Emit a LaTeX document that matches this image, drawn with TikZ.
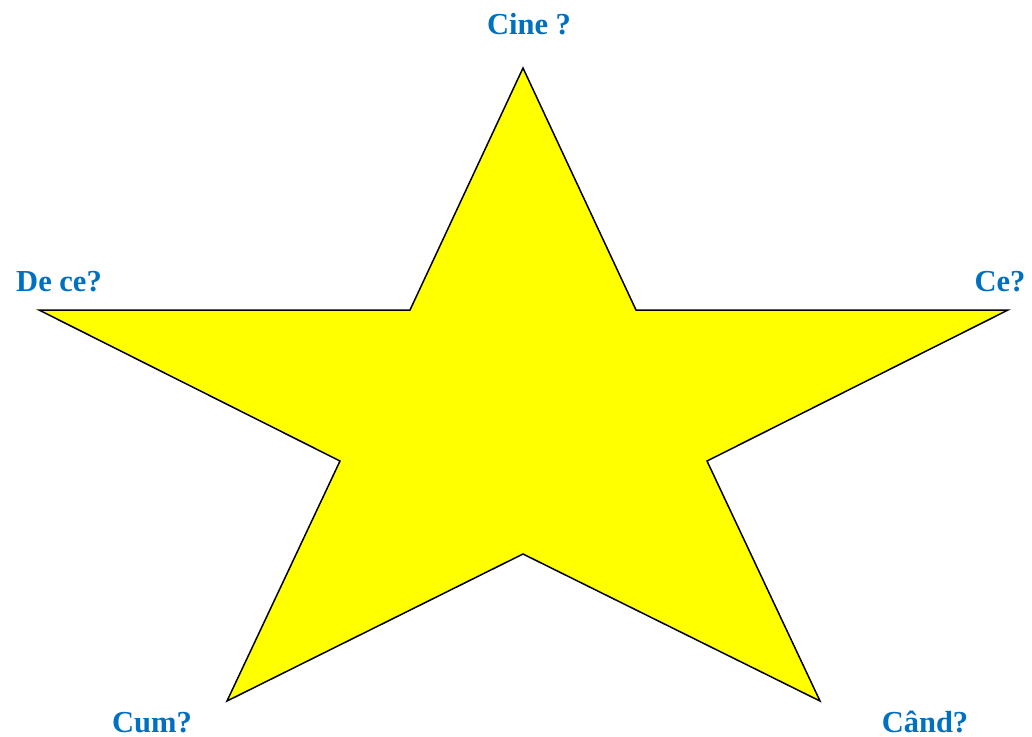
\documentclass[tikz,border=0pt]{standalone}
\usepackage{fontspec}
\setmainfont{Liberation Serif}
\usepackage{tikz}
\usetikzlibrary{positioning}

\definecolor{questblue}{HTML}{0070C0}
\definecolor{staryellow}{HTML}{FFFF00}

\begin{document}
\begin{tikzpicture}[x=1pt, y=-1pt,
    % --- Styles ---
    star line/.style={draw=black, line width=1.5pt, fill=staryellow, line join=miter},
    question/.style={font=\fontsize{30.5}{33}\selectfont\bfseries, text=questblue,
                     anchor=base, inner sep=0pt},
]
\useasboundingbox (0,0) rectangle (1032,736);

% --- Star corners (outer tips and inner corners) ---
\coordinate (top)   at (523, 68);
\coordinate (inUR)  at (636,310);
\coordinate (right) at (1008,310);
\coordinate (inLR)  at (707,461);
\coordinate (botR)  at (820,701);
\coordinate (inB)   at (523,554);
\coordinate (botL)  at (227,701);
\coordinate (inLL)  at (340,461);
\coordinate (left)  at (39,310);
\coordinate (inUL)  at (410,310);

\draw[star line] (top) -- (inUR) -- (right) -- (inLR) -- (botR) -- (inB)
  -- (botL) -- (inLL) -- (left) -- (inUL) -- cycle;

% --- Questions at the tips ---
\node[question] (who)   at (529, 34)  {Cine ?};
\node[question] (why)   at (59, 291)  {De ce?};
\node[question] (what)  at (1000,291) {Ce?};
\node[question] (how)   at (152,732)  {Cum?};
\node[question] (when)  at (925,732)  {Când?};

\end{tikzpicture}
\end{document}
